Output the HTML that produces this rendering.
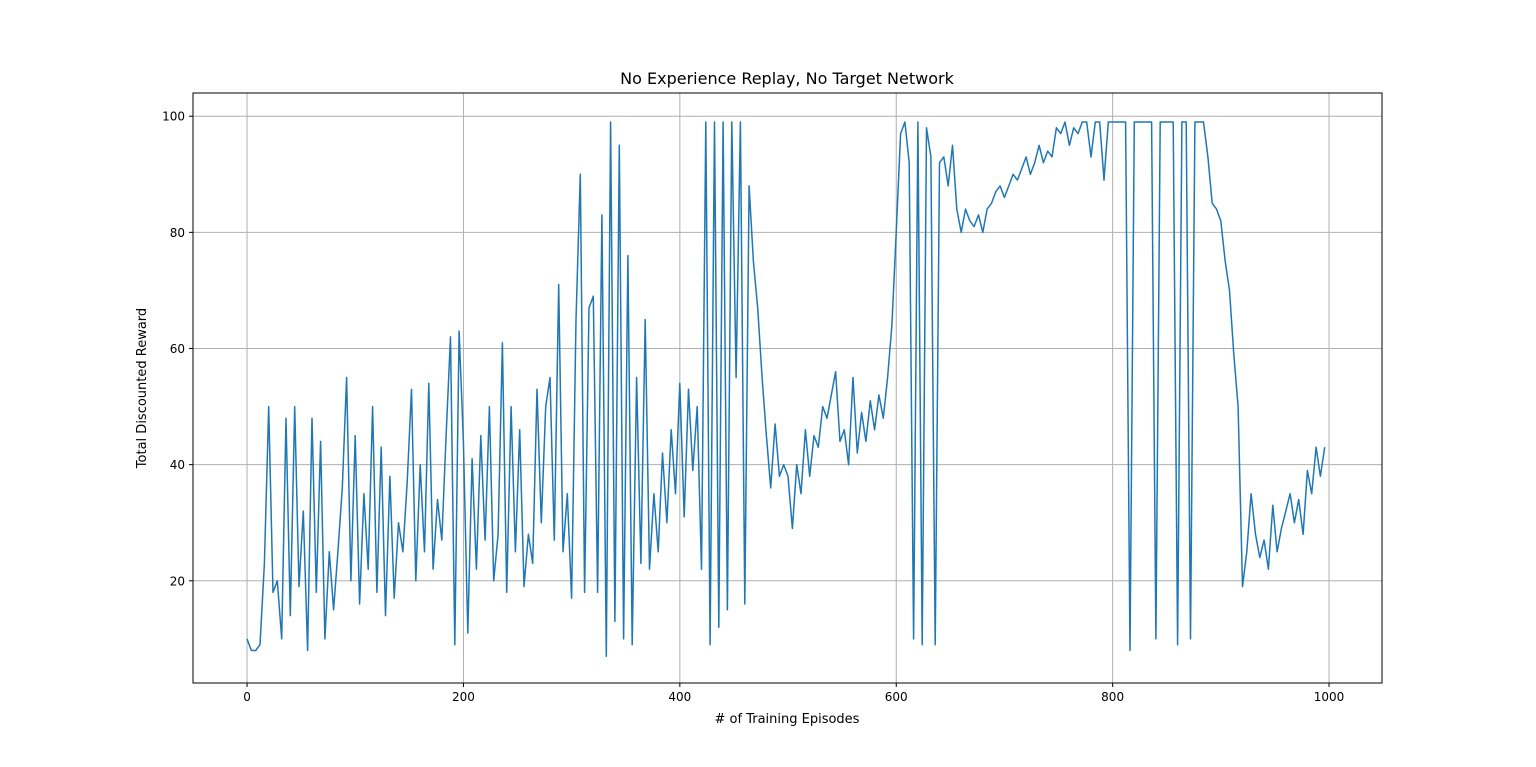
<!DOCTYPE html>
<html><head><meta charset="utf-8"><style>
html,body{margin:0;padding:0;background:#fff;}
svg{display:block;font-family:"DejaVu Sans","Liberation Sans",sans-serif;}
</style></head><body>
<svg id="chart" width="1536" height="767" xmlns="http://www.w3.org/2000/svg">
<rect width="1536" height="767" fill="#fff"/>
<g id="grid"></g>
<g id="line"></g>
<rect x="193" y="93" width="1189" height="590" fill="none" stroke="#000" stroke-width="1"/>
<g id="ticks"></g>
<text x="787" y="84" font-size="16" text-anchor="middle">No Experience Replay, No Target Network</text>
<text x="787" y="723" font-size="13" text-anchor="middle"># of Training Episodes</text>
<text transform="translate(146,388) rotate(-90)" font-size="13" text-anchor="middle">Total Discounted Reward</text>
</svg>
<script>
const xTicks=[0,200,400,600,800,1000];
const yTicks=[20,40,60,80,100];
const episodeStep=4;
const rewards=[
10,8,8,9,23,50,18,20,10,48,14,50,19,32,8,48,18,44,10,25,15,25,36,55,20,
45,16,35,22,50,18,43,14,38,17,30,25,37,53,20,40,25,54,22,34,27,45,62,9,63,
44,11,41,22,45,27,50,20,28,61,18,50,25,46,19,28,23,53,30,50,55,27,71,25,35,
17,65,90,18,67,69,18,83,7,99,13,95,10,76,9,55,23,65,22,35,25,42,30,46,35,
54,31,53,39,50,22,99,9,99,12,99,15,99,55,99,16,88,75,67,55,45,36,47,38,40,
38,29,40,35,46,38,45,43,50,48,52,56,44,46,40,55,42,49,44,51,46,52,48,55,64,
80,97,99,92,10,99,9,98,93,9,92,93,88,95,84,80,84,82,81,83,80,84,85,87,88,
86,88,90,89,91,93,90,92,95,92,94,93,98,97,99,95,98,97,99,99,93,99,99,89,99,
99,99,99,99,8,99,99,99,99,99,10,99,99,99,99,9,99,99,10,99,99,99,93,85,84,
82,75,70,59,50,19,25,35,28,24,27,22,33,25,29,32,35,30,34,28,39,35,43,38,43];
const X0=193,X1=1382,Y0=93,Y1=683;
const xmin=-49.95,xmax=1048.95,ymin=2.4,ymax=104.0;
function sx(v){return X0+(v-xmin)/(xmax-xmin)*(X1-X0);}
function sy(v){return Y1-(v-ymin)/(ymax-ymin)*(Y1-Y0);}
const NS="http://www.w3.org/2000/svg";
const grid=document.getElementById('grid'),ticks=document.getElementById('ticks');
function mk(tag,attrs,parent){const e=document.createElementNS(NS,tag);for(const k in attrs)e.setAttribute(k,attrs[k]);parent.appendChild(e);return e;}
xTicks.forEach(t=>{
  const x=sx(t);
  const g=mk('line',{x1:x,x2:x,y1:Y0,y2:Y1,stroke:'#b0b0b0','stroke-width':1},grid);
  
  
  const tk=mk('line',{x1:x,x2:x,y1:Y1,y2:Y1+4,stroke:'#000'},ticks);
  
  
  const tx=mk('text',{x:x,y:Y1+18,'font-size':12,'text-anchor':'middle'},ticks);
  tx.textContent=t;
  
  
});
yTicks.forEach(t=>{
  const y=sy(t);
  const g=mk('line',{x1:X0,x2:X1,y1:y,y2:y,stroke:'#b0b0b0','stroke-width':1},grid);
  
  
  const tk=mk('line',{x1:X0-4,x2:X0,y1:y,y2:y,stroke:'#000'},ticks);
  
  
  const tx=mk('text',{x:X0-8,y:y+4.5,'font-size':12,'text-anchor':'end'},ticks);
  tx.textContent=t;
  
  
});
const pts=rewards.map((v,i)=>sx(i*episodeStep).toFixed(1)+','+sy(v).toFixed(1)).join(' ');
const pl=mk('polyline',{points:pts,fill:'none',stroke:'#1f77b4','stroke-width':1.5,'stroke-linejoin':'round'},document.getElementById('line'));


</script>
</body></html>
